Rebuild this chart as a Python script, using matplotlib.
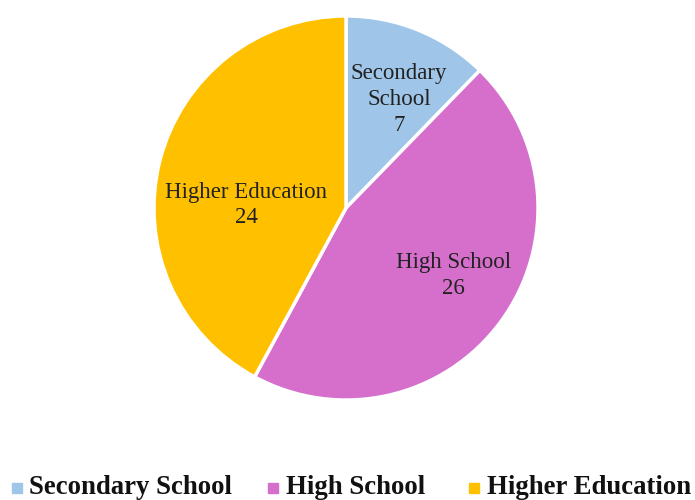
import matplotlib
matplotlib.use("Agg")
import matplotlib.pyplot as plt
from matplotlib.lines import Line2D
import numpy as np

categories = ["Secondary School", "High School", "Higher Education"]
values = [7, 26, 24]
colors = ["#9FC5E8", "#D56FCB", "#FFC000"]
label_texts = ["Secondary\nSchool\n7", "High School\n26", "Higher Education\n24"]

plt.rcParams['font.family'] = ['Liberation Serif', 'DejaVu Serif']

W, H = 695, 500
fig = plt.figure(figsize=(W / 100, H / 100), dpi=100)
ax = fig.add_axes([153/W, (H-401)/H, 386/W, 386/H])
wedges, _ = ax.pie(values, colors=colors, startangle=90, counterclock=False,
                   wedgeprops=dict(edgecolor="white", linewidth=2.5))
ax.set_xlim(-1.005, 1.005)
ax.set_ylim(-1.005, 1.005)
ax.set_aspect("equal")

# label placement (radius fraction, angle shift) per wedge
place = [(0.63, -4), (0.66, 4), (0.52, 12.5)]
for w, txt, (r, dth) in zip(wedges, label_texts, place):
    ang = np.deg2rad((w.theta1 + w.theta2) / 2 + dth)
    ax.text(r * np.cos(ang), r * np.sin(ang), txt, ha="center", va="center",
            fontsize=16.5, color="#222222", linespacing=1.3)

# legend laid out entry by entry (layout positions in pixels)
marker_x = [17, 273, 474]
text_x = [29, 286, 487]
for c, name, mx, tx in zip(colors, categories, marker_x, text_x):
    fig.add_artist(Line2D([mx / W], [(H - 488) / H], marker="s", linestyle="none",
                          markersize=7.5, markerfacecolor=c, markeredgecolor=c,
                          transform=fig.transFigure))
    fig.text(tx / W, (H - 494) / H, name, ha="left", va="baseline",
             fontsize=19.3, fontweight="bold", color="#111111")

fig.savefig("out.png", dpi=100)
